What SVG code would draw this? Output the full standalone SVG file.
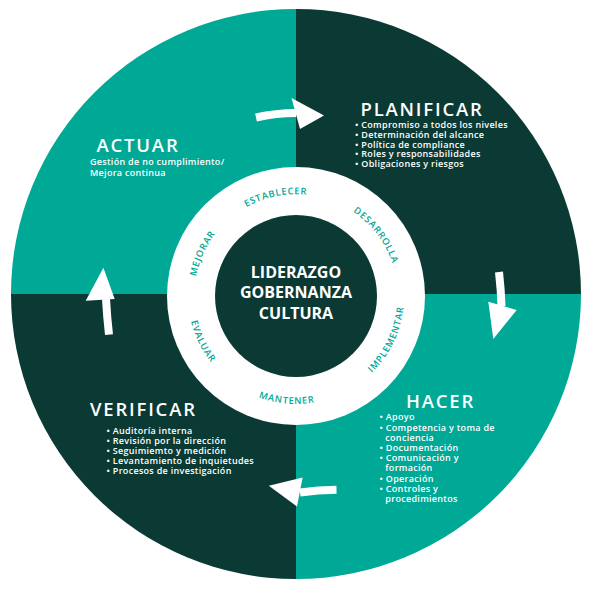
<svg xmlns="http://www.w3.org/2000/svg" width="590" height="590" viewBox="0 0 590 590">
<defs>
<style>
.teal{fill:#00a896}
.dark{fill:#0b3a34}
.title{font-family:"Open Sans","Liberation Sans",sans-serif;font-weight:600;font-size:18.5px;letter-spacing:1.8px;fill:#ffffff}
.body{font-family:"Open Sans","Liberation Sans",sans-serif;font-weight:600;font-size:9px;letter-spacing:0.3px;fill:#ffffff}
.core{font-family:"Open Sans","Liberation Sans",sans-serif;font-weight:700;font-size:16px;fill:#ffffff;text-anchor:middle}
.ring{font-family:"Open Sans","Liberation Sans",sans-serif;font-weight:600;font-size:9.3px;letter-spacing:0.8px;fill:#00a896;text-anchor:middle}
.arrow{fill:#ffffff}
.shaft{fill:none;stroke:#ffffff;stroke-width:8}
</style>
<path id="cw" d="M194.2,296 A101.8,101.8 0 1 1 397.8,296 A101.8,101.8 0 1 1 194.2,296"/>
<path id="ccw" d="M188,296 A108,108 0 1 0 404,296 A108,108 0 1 0 188,296"/>
</defs>

<g id="actuar">
<path class="teal" d="M296,294 L11,294 A285,285 0 0 1 296,9 Z"/>
<text class="title" x="96.5" y="151.7">ACTUAR</text>
<text class="body"><tspan x="90" y="165">Gestión de no cumplimiento/</tspan><tspan x="90" y="175.8">Mejora continua</tspan></text>
</g>

<g id="planificar">
<path class="dark" d="M296,294 L296,9 A285,285 0 0 1 581,294 Z"/>
<text class="title" x="360.5" y="115.7">PLANIFICAR</text>
<text class="body" x="355" y="128.3">• Compromiso a todos los niveles</text>
<text class="body" x="355" y="138">• Determinación del alcance</text>
<text class="body" x="355" y="147.7">• Política de compliance</text>
<text class="body" x="355" y="157.4">• Roles y responsabilidades</text>
<text class="body" x="355" y="167.1">• Obligaciones y riesgos</text>
</g>

<g id="hacer">
<path class="teal" d="M296,294 L581,294 A285,285 0 0 1 296,579 Z"/>
<text class="title" x="406" y="408.3">HACER</text>
<text class="body" x="379.5" y="420.3">• Apoyo</text>
<text class="body"><tspan x="379.5" y="430.6">• Competencia y toma de</tspan><tspan x="385.3" y="440.8">conciencia</tspan></text>
<text class="body" x="379.5" y="451">• Documentación</text>
<text class="body"><tspan x="379.5" y="461.2">• Comunicación y</tspan><tspan x="385.3" y="471.4">formación</tspan></text>
<text class="body" x="379.5" y="481.6">• Operación</text>
<text class="body"><tspan x="379.5" y="491.8">• Controles y</tspan><tspan x="385.3" y="502">procedimientos</tspan></text>
</g>

<g id="verificar">
<path class="dark" d="M296,294 L296,579 A285,285 0 0 1 11,294 Z"/>
<text class="title" x="90" y="416">VERIFICAR</text>
<text class="body" x="106.5" y="434.3">• Auditoría interna</text>
<text class="body" x="106.5" y="444.3">• Revisión por la dirección</text>
<text class="body" x="106.5" y="454.3">• Seguimiemto y medición</text>
<text class="body" x="106.5" y="464.2">• Levantamiento de inquietudes</text>
<text class="body" x="106.5" y="474.1">• Procesos de investigación</text>
</g>

<g id="ring">
<circle cx="296" cy="296" r="129" fill="#ffffff"/>
<text class="ring"><textPath href="#cw" startOffset="21.8%">ESTABLECER</textPath></text>
<text class="ring"><textPath href="#cw" startOffset="39.7%">DESARROLLA</textPath></text>
<text class="ring"><textPath href="#cw" startOffset="6.8%">MEJORAR</textPath></text>
<text class="ring"><textPath href="#ccw" startOffset="7.2%">EVALUAR</textPath></text>
<text class="ring"><textPath href="#ccw" startOffset="23.6%">MANTENER</textPath></text>
<text class="ring"><textPath href="#ccw" startOffset="42.9%">IMPLEMENTAR</textPath></text>
</g>

<g id="core">
<circle class="dark" cx="296" cy="296" r="81"/>
<text class="core" x="296" y="277.5">LIDERAZGO</text>
<text class="core" x="296" y="298">GOBERNANZA</text>
<text class="core" x="296" y="318.5">CULTURA</text>
</g>

<g id="connectors">
<path class="shaft" d="M256,117.5 Q276,113 296,113"/>
<polygon class="arrow" points="291.5,98 324,115.5 300,129"/>
<path class="shaft" d="M499,272 Q501,290 501.5,306"/>
<polygon class="arrow" points="488.3,301.7 493.3,339 516.7,310"/>
<path class="shaft" d="M336.5,489.7 Q318,490 300,492.5"/>
<polygon class="arrow" points="302.6,477.4 268.8,485.7 297,506.4"/>
<path class="shaft" d="M109,334.6 Q107,317 106,299"/>
<polygon class="arrow" points="85.7,300.8 103.4,267.7 114.7,298.9"/>
</g>
</svg>
